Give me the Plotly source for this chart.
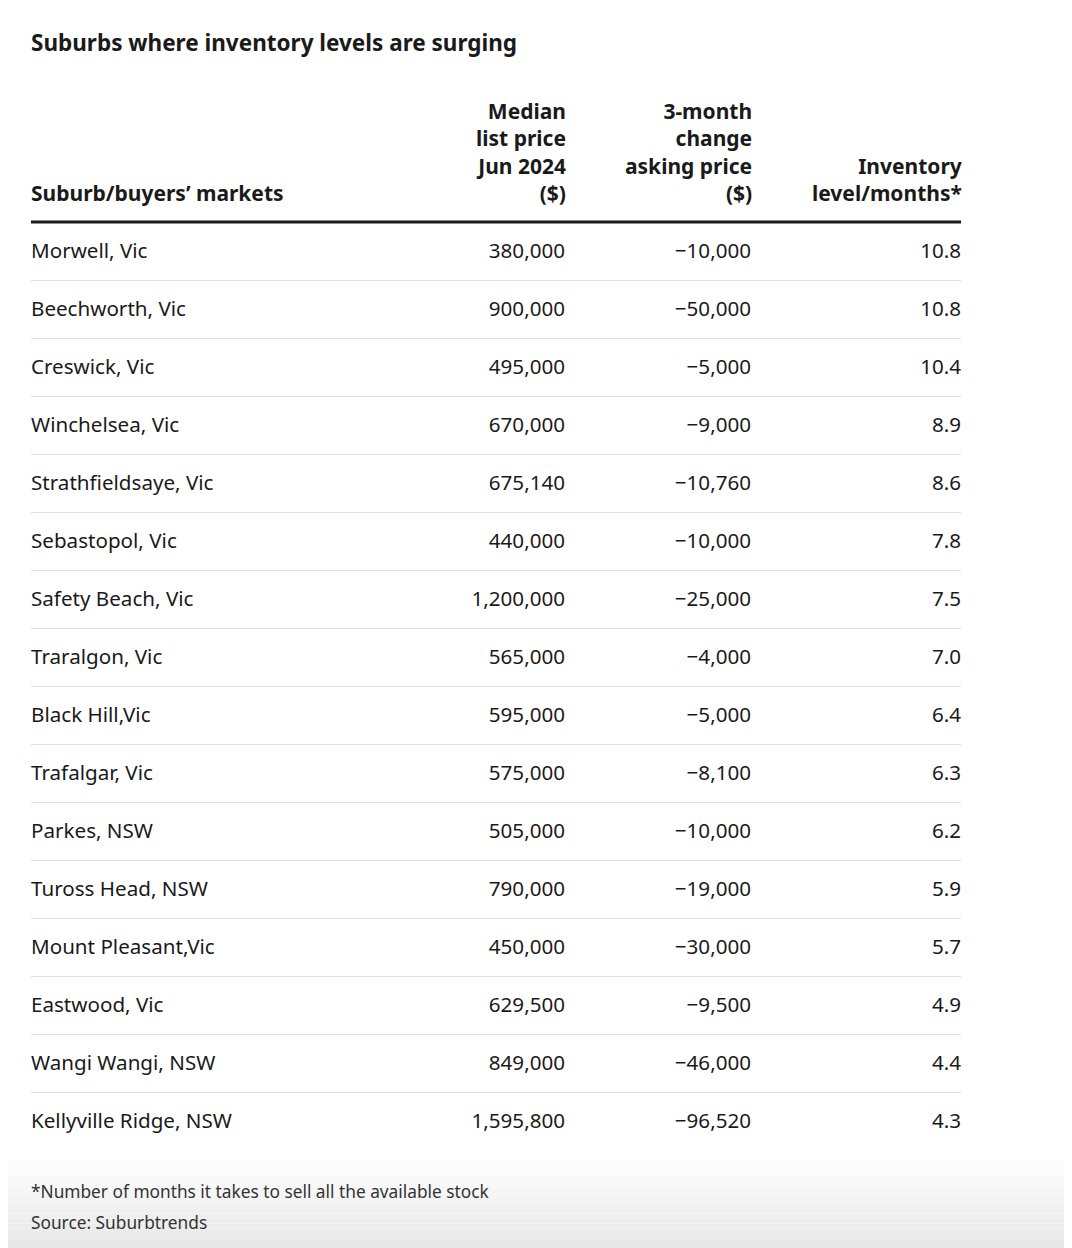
import plotly.graph_objects as go

W, H = 1072, 1248
PAD = 8  # the page body margin shifts the figure by 8px
FONT = "Noto Sans"
INK = "#1a1a1a"

title = "Suburbs where inventory levels are surging"
headers = ["Suburb/buyers’ markets",
           "Median<br>list price<br>Jun 2024<br>($)",
           "3-month<br>change<br>asking price<br>($)",
           "Inventory<br>level/months*"]

suburbs = ["Morwell, Vic", "Beechworth, Vic", "Creswick, Vic", "Winchelsea, Vic",
           "Strathfieldsaye, Vic", "Sebastopol, Vic", "Safety Beach, Vic",
           "Traralgon, Vic", "Black Hill,Vic", "Trafalgar, Vic", "Parkes, NSW",
           "Tuross Head, NSW", "Mount Pleasant,Vic", "Eastwood, Vic",
           "Wangi Wangi, NSW", "Kellyville Ridge, NSW"]
median_price = [380000, 900000, 495000, 670000, 675140, 440000, 1200000, 565000,
                595000, 575000, 505000, 790000, 450000, 629500, 849000, 1595800]
change_3m = [-10000, -50000, -5000, -9000, -10760, -10000, -25000, -4000,
             -5000, -8100, -10000, -19000, -30000, -9500, -46000, -96520]
inventory = [10.8, 10.8, 10.4, 8.9, 8.6, 7.8, 7.5, 7.0, 6.4, 6.3, 6.2, 5.9,
             5.7, 4.9, 4.4, 4.3]

footnote = "*Number of months it takes to sell all the available stock"
source = "Source: Suburbtrends"

# layout, in screenshot pixels
row0, row_h = 251, 58
left, right = 31, 961
col_x = [31, 565, 751, 961]
ANN_DX = 2  # annotation box padding

fw, fh = W - PAD, H - PAD


def px(p):
    return (p - PAD) / fw


def py(p):
    return 1 - (p - PAD) / fh


rows = list(range(len(suburbs)))
text_y = [r + 2 / row_h for r in rows]  # nudge glyphs onto the row centre
fmt_price = [f"{v:,}" for v in median_price]
fmt_change = [f"−{abs(v):,}" if v < 0 else f"{v:,}" for v in change_3m]
fmt_inv = [f"{v:.1f}" for v in inventory]

fig = go.Figure()
cell = dict(family=FONT, size=20.6, color=INK)
for x, txt, pos in [(col_x[0], suburbs, "middle right"),
                    (col_x[1], fmt_price, "middle left"),
                    (col_x[2], fmt_change, "middle left"),
                    (col_x[3], fmt_inv, "middle left")]:
    fig.add_trace(go.Scatter(x=[x] * len(rows), y=text_y, mode="text", text=txt,
                             textposition=pos, textfont=cell, cliponaxis=False,
                             showlegend=False, hoverinfo="skip"))

y_lo = -(row0 - PAD) / row_h
y_hi = y_lo + fh / row_h
fig.update_yaxes(range=[y_hi, y_lo], domain=[0, 1], showgrid=True,
                 gridcolor="#e2e2e2", gridwidth=1,
                 tickvals=[i + 0.5 for i in rows[:-1]], showticklabels=False,
                 ticks="", zeroline=False, showline=False)
fig.update_xaxes(range=[left, right], domain=[px(left), px(right)], visible=False)

# thick rule under the header
fig.add_shape(type="line", xref="paper", yref="y", x0=px(left), x1=px(right),
              y0=-0.5, y1=-0.5, line=dict(color=INK, width=3))

head_font = dict(family=FONT, size=21, color=INK, weight="bold")
head_y = py(209)
fig.add_annotation(text=headers[0], x=px(col_x[0] - ANN_DX), y=head_y,
                   xref="paper", yref="paper", xanchor="left", yanchor="bottom",
                   align="left", showarrow=False, font=head_font)
for x, txt in zip(col_x[1:], headers[1:]):
    fig.add_annotation(text=txt, x=px(x + ANN_DX + 1), y=head_y, xref="paper", yref="paper",
                       xanchor="right", yanchor="bottom", align="right", showarrow=False,
                       font=head_font)

fig.add_annotation(text=title, x=px(left - ANN_DX), y=py(42), xref="paper", yref="paper",
                   xanchor="left", yanchor="middle", showarrow=False,
                   font=dict(family=FONT, size=22.5, color=INK, weight="bold"))
foot_font = dict(family=FONT, size=17.3, color="#333333")
fig.add_annotation(text=footnote, x=px(left - ANN_DX), y=py(1191), xref="paper", yref="paper",
                   xanchor="left", yanchor="middle", showarrow=False, font=foot_font)
fig.add_annotation(text=source, x=px(left - ANN_DX), y=py(1222), xref="paper", yref="paper",
                   xanchor="left", yanchor="middle", showarrow=False, font=foot_font)

# faint grey fade at the bottom edge of the screenshot
n_band = 18
band = (H - 1160) / n_band
for k in range(n_band):
    top = 1160 + k * band
    g = int(255 - 24 * (k + 1) / n_band)
    fig.add_shape(type="rect", xref="paper", yref="paper", x0=0, x1=1,
                  y0=py(top + band), y1=py(top),
                  fillcolor=f"rgb({g},{g},{g})", line=dict(width=0), layer="below")

fig.update_layout(width=fw, height=fh, margin=dict(l=0, r=0, t=0, b=0),
                  paper_bgcolor="white", plot_bgcolor="rgba(0,0,0,0)")

fig.write_html("out.html")
